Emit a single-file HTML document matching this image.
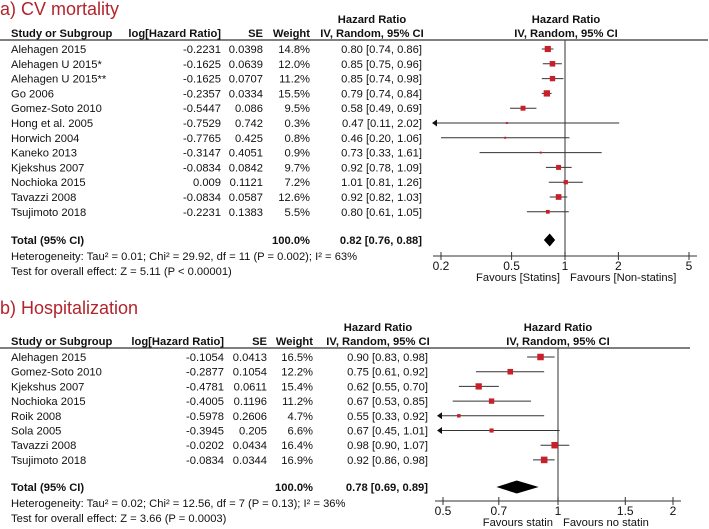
<!DOCTYPE html>
<html><head><meta charset="utf-8">
<style>
html,body{margin:0;padding:0;background:#fff;}
svg{display:block;font-family:"Liberation Sans",Arial,sans-serif;}
</style></head>
<body>
<svg id="chart" width="709" height="529" viewBox="0 0 709 529" xmlns="http://www.w3.org/2000/svg"></svg>
<script>
// ---- Panel A data: CV mortality ----
const aStudies = ["Alehagen 2015","Alehagen U 2015*","Alehagen U 2015**","Go 2006","Gomez-Soto 2010","Hong et al. 2005","Horwich 2004","Kaneko 2013","Kjekshus 2007","Nochioka 2015","Tavazzi 2008","Tsujimoto 2018"];
const aLogHR = ["-0.2231","-0.1625","-0.1625","-0.2357","-0.5447","-0.7529","-0.7765","-0.3147","-0.0834","0.009","-0.0834","-0.2231"];
const aSE = ["0.0398","0.0639","0.0707","0.0334","0.086","0.742","0.425","0.4051","0.0842","0.1121","0.0587","0.1383"];
const aWeight = [14.8,12.0,11.2,15.5,9.5,0.3,0.8,0.9,9.7,7.2,12.6,5.5];
const aHR = [0.80,0.85,0.85,0.79,0.58,0.47,0.46,0.73,0.92,1.01,0.92,0.80];
const aLo = [0.74,0.75,0.74,0.74,0.49,0.11,0.20,0.33,0.78,0.81,0.82,0.61];
const aHi = [0.86,0.96,0.98,0.84,0.69,2.02,1.06,1.61,1.09,1.26,1.03,1.05];
const aTotal = [0.82,0.76,0.88];
const aTicks = [0.2,0.5,1,2,5];
const aTickLabels = ["0.2","0.5","1","2","5"];
// ---- Panel B data: Hospitalization ----
const bStudies = ["Alehagen 2015","Gomez-Soto 2010","Kjekshus 2007","Nochioka 2015","Roik 2008","Sola 2005","Tavazzi 2008","Tsujimoto 2018"];
const bLogHR = ["-0.1054","-0.2877","-0.4781","-0.4005","-0.5978","-0.3945","-0.0202","-0.0834"];
const bSE = ["0.0413","0.1054","0.0611","0.1196","0.2606","0.205","0.0434","0.0344"];
const bWeight = [16.5,12.2,15.4,11.2,4.7,6.6,16.4,16.9];
const bHR = [0.90,0.75,0.62,0.67,0.55,0.67,0.98,0.92];
const bLo = [0.83,0.61,0.55,0.53,0.33,0.45,0.90,0.86];
const bHi = [0.98,0.92,0.70,0.85,0.92,1.01,1.07,0.98];
const bTotal = [0.78,0.69,0.89];
const bTicks = [0.5,0.7,1,1.5,2];
const bTickLabels = ["0.5","0.7","1","1.5","2"];

const NS="http://www.w3.org/2000/svg";
const FS=11.2;
const svg=document.getElementById('chart');
function mk(tag,attrs,parent){const e=document.createElementNS(NS,tag);for(const k in attrs)e.setAttribute(k,attrs[k]);(parent||svg).appendChild(e);return e;}
function txt(s,x,y,anchor,opts,parent){const e=mk('text',{x:x,y:y,'text-anchor':anchor||'start','font-size':(opts&&opts.size)||FS,fill:(opts&&opts.fill)||'#111','font-weight':(opts&&opts.bold)?'bold':'normal'},parent);e.textContent=s;return e;}
function fmt(v){return v.toFixed(2);}

function panel(cfg){
  const g=mk('g',{});
  
  
  const t=txt(cfg.title,0,cfg.titleY,'start',{size:18,fill:'#b3242c'},g);
  
  
  const hy=cfg.headY;
  txt('Hazard Ratio',cfg.hrCenter,hy-14,'middle',{bold:true},g);
  txt('Hazard Ratio',cfg.plotCenter,hy-14,'middle',{bold:true},g);
  txt('Study or Subgroup',11,hy,'start',{bold:true},g);
  txt('log[Hazard Ratio]',cfg.cLog,hy,'end',{bold:true},g);
  txt('SE',cfg.cSE,hy,'end',{bold:true},g);
  txt('Weight',cfg.cW,hy,'end',{bold:true},g);
  txt('IV, Random, 95% CI',cfg.hrCenter,hy,'middle',{bold:true},g);
  txt('IV, Random, 95% CI',cfg.plotCenter,hy,'middle',{bold:true},g);
  const hl=mk('line',{x1:0,x2:cfg.lineEnd,y1:cfg.lineY,y2:cfg.lineY,stroke:'#333','stroke-width':1.2},g);
  
  
  const lnMin=Math.log(cfg.ticks[0]), lnMax=Math.log(cfg.ticks[cfg.ticks.length-1]);
  const X=v=>cfg.x0+(Math.log(v)-lnMin)/(lnMax-lnMin)*(cfg.x1-cfg.x0);
  mk('line',{x1:X(1),x2:X(1),y1:cfg.lineY,y2:cfg.axisY,stroke:'#555','stroke-width':1.2},g);
  const n=cfg.studies.length;
  const Y=i=>cfg.row0+i*cfg.rowH;
  const xMinPx=cfg.x0-cfg.arrowOff;
  for(let i=0;i<n;i++){
    const y=Y(i), ty=y+4;
    const row=mk('g',{},g);
    
    
    txt(cfg.studies[i],11,ty,'start',{},row);
    txt(cfg.log[i],cfg.cLog,ty,'end',{},row);
    txt(cfg.se[i],cfg.cSE,ty,'end',{},row);
    txt(cfg.w[i].toFixed(1)+'%',cfg.cW,ty,'end',{},row);
    txt(fmt(cfg.hr[i])+' ['+fmt(cfg.lo[i])+', '+fmt(cfg.hi[i])+']',cfg.cHR,ty,'end',{},row);
    const clipped=X(cfg.lo[i])<xMinPx;
    const xl=clipped?xMinPx:X(cfg.lo[i]);
    const hi=Math.min(cfg.hi[i],cfg.ticks[cfg.ticks.length-1]);
    const ci=mk('line',{x1:xl,x2:X(hi),y1:y,y2:y,stroke:'#333','stroke-width':1},row);
    
    
    if(clipped){
      const ar=mk('polygon',{points:(xl-2)+','+y+' '+(xl+3)+','+(y-3.5)+' '+(xl+3)+','+(y+3.5),fill:'#111'},row);
      
      
    }
    const s=Math.max(2,Math.sqrt(cfg.w[i])*1.6);
    const sq=mk('rect',{x:X(cfg.hr[i])-s/2,y:y-s/2,width:s,height:s,fill:'#c8202a'},row);
    
    
  }
  const ty=cfg.totalY;
  txt('Total (95% CI)',11,ty+4,'start',{bold:true},g);
  txt('100.0%',cfg.cW,ty+4,'end',{bold:true},g);
  txt(fmt(cfg.total[0])+' ['+fmt(cfg.total[1])+', '+fmt(cfg.total[2])+']',cfg.cHR,ty+4,'end',{bold:true},g);
  const d=mk('polygon',{points:X(cfg.total[1])+','+ty+' '+X(cfg.total[0])+','+(ty-6.5)+' '+X(cfg.total[2])+','+ty+' '+X(cfg.total[0])+','+(ty+6.5),fill:'#000'},g);
  
  
  txt(cfg.het,11,cfg.hetY,'start',{},g);
  txt(cfg.test,11,cfg.hetY+15,'start',{},g);
  const ax=mk('g',{},g);
  
  
  mk('line',{x1:cfg.x0-8,x2:cfg.x1+8,y1:cfg.axisY,y2:cfg.axisY,stroke:'#333','stroke-width':1},ax);
  cfg.ticks.forEach((v,k)=>{
    mk('line',{x1:X(v),x2:X(v),y1:cfg.axisY-4,y2:cfg.axisY+4,stroke:'#333','stroke-width':1},ax);
    txt(cfg.tickLabels[k],X(v),cfg.axisY+14,'middle',{size:12},ax);
  });
  txt(cfg.favL,X(1)-5,cfg.axisY+25,'end',{},ax);
  txt(cfg.favR,X(1)+5,cfg.axisY+25,'start',{},ax);
}

panel({name:'panel-cv-mortality',title:'a) CV mortality',titleY:15,headY:37,lineY:40,lineEnd:708,hrCenter:372,plotCenter:566,
  cLog:221,cSE:263,cW:310,cHR:422,row0:49,rowH:14.8,totalY:240,hetY:260,axisY:256,x0:441,x1:689,arrowOff:7,
  studies:aStudies,log:aLogHR,se:aSE,w:aWeight,hr:aHR,lo:aLo,hi:aHi,total:aTotal,ticks:aTicks,tickLabels:aTickLabels,
  het:'Heterogeneity: Tau² = 0.01; Chi² = 29.92, df = 11 (P = 0.002); I² = 63%',
  test:'Test for overall effect: Z = 5.11 (P < 0.00001)',favL:'Favours [Statins]',favR:'Favours [Non-statins]'});

panel({name:'panel-hospitalization',title:'b) Hospitalization',titleY:314,headY:345,lineY:348,lineEnd:690,hrCenter:378,plotCenter:558,
  cLog:224,cSE:267,cW:313,cHR:428,row0:357,rowH:14.7,totalY:487,hetY:507,axisY:501,x0:443,x1:673,arrowOff:4,
  studies:bStudies,log:bLogHR,se:bSE,w:bWeight,hr:bHR,lo:bLo,hi:bHi,total:bTotal,ticks:bTicks,tickLabels:bTickLabels,
  het:'Heterogeneity: Tau² = 0.02; Chi² = 12.56, df = 7 (P = 0.13); I² = 36%',
  test:'Test for overall effect: Z = 3.66 (P = 0.0003)',favL:'Favours statin',favR:'Favours no statin'});
</script>
</body></html>
